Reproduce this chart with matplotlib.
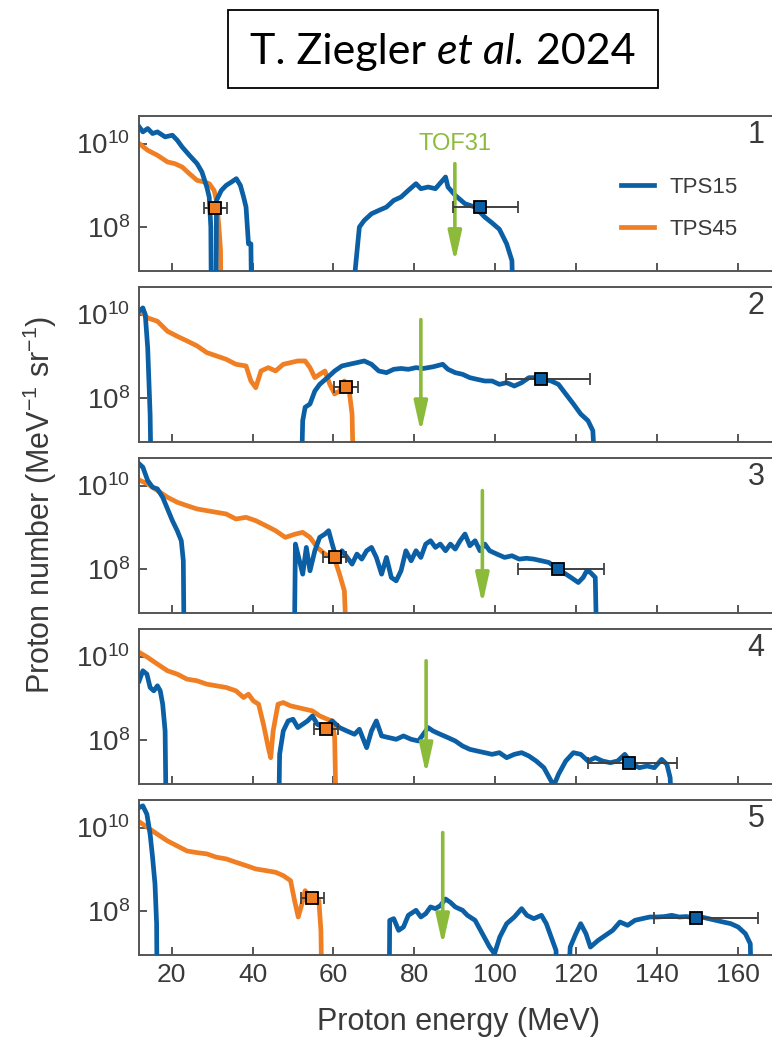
import numpy as np
import matplotlib
matplotlib.use('Agg')
import matplotlib.pyplot as plt
from matplotlib.patches import Rectangle

plt.rcParams['font.family'] = ['Liberation Sans', 'DejaVu Sans']
plt.rcParams['mathtext.fontset'] = 'custom'
plt.rcParams['mathtext.rm'] = 'Liberation Sans'
plt.rcParams['mathtext.it'] = 'Liberation Sans:italic'
plt.rcParams['mathtext.default'] = 'regular'

# ---- data (energy in MeV, log10 of proton number); 5.0 = dropped below axis ----
p1_tps15_e = [12, 12.9, 14.1, 15.3, 16.5, 18.4, 20.2, 21.4, 22.6, 24.4, 26.3, 27.5, 28.7, 29.3, 29.7, 29.9,
              30.9, 31.1, 32.3, 33.5, 34.8, 36.0, 37.0, 37.8, 38.4, 39.0, 39.6, 39.9,
              65.0, 65.4, 66.4, 67.6, 69.4, 71.2, 73.1, 74.9, 76.7, 78.5, 80.4, 81.6, 83.4, 85.2, 87.7, 88.3,
              90.1, 92.5, 95.0, 97.4, 99.2, 101.0, 102.8, 104.1, 104.7]
p1_tps15_lg = [10.4, 10.28, 10.36, 10.24, 10.28, 10.16, 10.2, 10.08, 9.92, 9.72, 9.52, 9.32, 8.96, 8.72, 8.0, 5.0,
               5.0, 8.64, 8.88, 9.0, 9.08, 9.16, 9.0, 8.72, 8.48, 7.6, 7.6, 5.0,
               5.0, 7.0, 8.0, 8.16, 8.32, 8.4, 8.48, 8.64, 8.72, 8.88, 9.04, 8.92, 8.96, 8.92, 9.2, 8.96,
               8.76, 8.56, 8.48, 8.24, 8.1, 7.95, 7.6, 7.2, 5.0]
p1_tps45_e = [12, 14.1, 16.5, 19.0, 20.8, 22.6, 24.4, 26.3, 28.1, 29.3, 30.5, 31.1, 31.7, 32.1, 32.3]
p1_tps45_lg = [10.0, 9.84, 9.72, 9.56, 9.52, 9.44, 9.28, 9.12, 9.08, 9.04, 8.88, 8.64, 8.0, 7.44, 5.0]

p2_tps15_e = [12, 12.9, 13.5, 14.1, 14.7, 15.1,
              51.8, 52.4, 53.0, 54.2, 55.4, 56.6, 58.5, 60.3, 62.1, 63.9, 65.8, 67.6, 69.4, 71.2, 73.1, 74.9,
              76.7, 78.5, 80.4, 82.2, 84.6, 87.0, 88.3, 90.1, 91.9, 93.7, 95.5, 97.4, 99.2, 101.0, 102.8, 104.7,
              106.5, 108.3, 110.1, 112.0, 113.8, 115.6, 117.4, 119.3, 121.1, 122.9, 124.1, 125.3]
p2_tps15_lg = [10.08, 10.16, 10.0, 9.2, 7.6, 5.0,
               5.0, 7.46, 7.78, 7.86, 8.17, 8.33, 8.49, 8.65, 8.77, 8.81, 8.85, 8.89, 8.81, 8.65, 8.61, 8.69,
               8.71, 8.69, 8.73, 8.71, 8.75, 8.81, 8.69, 8.61, 8.57, 8.49, 8.45, 8.41, 8.41, 8.33, 8.37, 8.29,
               8.37, 8.49, 8.49, 8.45, 8.41, 8.33, 8.1, 7.86, 7.62, 7.46, 7.22, 5.0]
p2_tps45_e = [12.3, 14.1, 16.5, 19.0, 21.4, 23.8, 26.3, 28.7, 31.1, 33.5, 35.9, 38.4, 39.6, 40.8, 42.1, 43.9,
              45.7, 47.6, 49.4, 51.2, 53.0, 54.2, 55.4, 56.6, 57.9, 59.1, 60.3, 61.5, 62.7, 63.9, 64.6, 65.2]
p2_tps45_lg = [10.08, 9.92, 9.84, 9.6, 9.48, 9.37, 9.25, 9.09, 9.01, 8.93, 8.81, 8.77, 8.41, 8.25, 8.65, 8.73,
               8.65, 8.81, 8.85, 8.89, 8.89, 8.73, 8.49, 8.57, 8.65, 8.33, 8.1, 8.17, 8.41, 8.17, 7.62, 5.0]

p3_tps15_e = [12, 12.9, 14.1, 15.3, 16.5, 17.8, 19.0, 20.2, 21.4, 22.4, 22.9, 23.2,
              50.2, 50.6, 51.6, 52.4, 53.3, 54.2, 55.4, 56.6, 57.9, 58.8, 59.7, 60.9, 62.1, 63.4, 64.6, 65.8,
              67.0, 68.2, 69.4, 70.6, 71.9, 73.1, 74.3, 75.5, 76.7, 77.9, 79.2, 80.4, 81.6, 82.8, 84.0, 85.2,
              86.4, 87.7, 88.9, 90.1, 91.3, 92.5, 93.7, 95.0, 96.2, 97.4, 98.6, 100.4, 102.3, 104.1, 105.9,
              107.7, 109.5, 111.4, 113.2, 115.0, 116.8, 118.7, 120.5, 121.7, 122.6, 123.5, 124.7, 125.3]
p3_tps15_lg = [10.52, 10.44, 10.12, 9.96, 9.92, 9.72, 9.44, 9.16, 8.92, 8.68, 8.2, 5.0,
               5.0, 8.6, 8.2, 7.88, 8.52, 7.96, 8.44, 8.76, 8.84, 8.92, 8.6, 8.2, 8.44, 8.28, 8.12, 8.36,
               8.24, 8.44, 8.52, 8.28, 7.88, 8.28, 7.8, 7.72, 7.96, 8.44, 8.2, 8.44, 8.28, 8.6, 8.68, 8.52,
               8.6, 8.44, 8.6, 8.48, 8.68, 8.84, 8.56, 8.68, 8.44, 8.6, 8.44, 8.36, 8.28, 8.32, 8.24,
               8.26, 8.24, 8.2, 8.16, 8.04, 7.92, 7.8, 7.68, 7.8, 7.96, 7.92, 7.8, 5.0]
p3_tps45_e = [12.3, 14.1, 16.5, 19.0, 21.4, 23.8, 26.3, 28.7, 31.1, 33.5, 35.9, 38.4, 40.8, 43.3, 45.7, 48.1,
              50.6, 52.4, 54.2, 56.0, 57.9, 60.3, 61.5, 62.7, 63.7]
p3_tps45_lg = [10.12, 10.04, 9.88, 9.72, 9.6, 9.52, 9.44, 9.4, 9.36, 9.32, 9.2, 9.24, 9.16, 9.04, 8.92, 8.76,
               8.84, 8.88, 8.76, 8.52, 8.36, 8.24, 7.88, 7.48, 5.0]

p4_tps15_e = [12, 12.9, 13.9, 14.7, 15.6, 16.5, 17.2, 17.8, 18.4, 18.8,
              46.3, 46.7, 47.6, 48.8, 50.0, 51.2, 52.4, 53.6, 54.8, 56.0, 57.9, 59.7, 61.5, 63.3, 65.2, 66.4,
              68.2, 69.4, 70.6, 71.9, 73.7, 75.5, 77.3, 79.2, 81.0, 82.2, 83.4, 84.6, 86.4, 88.3, 90.1, 91.9,
              93.7, 95.5, 97.4, 99.2, 101.0, 102.8, 104.7, 106.5, 108.3, 110.1, 112.0, 113.8, 114.4, 115.6,
              117.4, 119.3, 121.1, 122.9, 124.7, 126.5, 128.4, 130.2, 132.0, 133.8, 135.6, 137.5, 139.3, 141.1,
              142.4, 143.2, 144.2]
p4_tps15_lg = [9.42, 9.66, 9.58, 9.26, 9.18, 9.3, 9.18, 8.86, 8.22, 5.0,
               5.0, 7.66, 8.22, 8.46, 8.5, 8.3, 8.38, 8.46, 8.58, 8.38, 8.3, 8.46, 8.3, 8.22, 8.14, 8.26,
               7.82, 8.22, 8.46, 8.1, 8.06, 8.02, 8.1, 8.02, 7.98, 8.14, 8.3, 8.22, 8.14, 8.06, 7.98, 7.86,
               7.78, 7.74, 7.7, 7.66, 7.7, 7.58, 7.66, 7.7, 7.62, 7.5, 7.34, 7.02, 6.9, 7.18,
               7.5, 7.7, 7.66, 7.5, 7.58, 7.5, 7.46, 7.5, 7.66, 7.42, 7.34, 7.38, 7.34, 7.54,
               7.42, 7.1, 5.0]
p4_tps45_e = [12, 14.1, 16.5, 19.0, 21.4, 23.8, 26.3, 28.7, 31.1, 33.5, 35.9, 37.8, 39.0, 40.2, 41.5, 42.7,
              43.9, 44.5, 45.1, 46.3, 47.6, 49.4, 51.2, 53.0, 54.8, 56.6, 58.5, 59.7, 60.3, 60.9]
p4_tps45_lg = [10.1, 9.98, 9.82, 9.66, 9.58, 9.46, 9.42, 9.34, 9.3, 9.26, 9.18, 9.02, 9.1, 8.94, 8.86, 8.38,
               7.82, 7.58, 8.22, 8.86, 8.9, 8.82, 8.78, 8.74, 8.7, 8.58, 8.5, 8.46, 8.06, 5.0]

p5_tps15_e = [12, 12.9, 13.9, 14.7, 15.3, 15.9, 16.3, 16.5,
              73.7, 73.9, 74.9, 76.1, 77.3, 78.5, 80.4, 81.6, 82.8, 84.0, 85.2, 86.4, 87.7, 88.9, 90.1, 91.9,
              93.1, 95.0, 96.8, 98.6, 99.8, 101.1, 102.8, 104.7, 106.5, 107.8, 109.5, 111.4, 112.6, 113.8,
              115.0, 115.6, 117.4, 118.5, 119.9, 121.1, 122.4, 123.5, 125.4, 127.2, 129.0, 130.8, 132.7,
              134.5, 136.3, 138.2, 140.0, 141.8, 143.6, 145.4, 147.2, 149.1, 150.9, 152.7, 154.5, 156.3,
              158.2, 160.0, 161.8, 163.0, 163.6]
p5_tps15_lg = [10.48, 10.52, 10.32, 9.84, 9.29, 8.65, 7.7, 5.0,
               5.0, 7.78, 7.82, 7.54, 7.62, 7.9, 8.02, 7.86, 7.94, 8.1, 8.06, 8.13, 8.29, 8.21, 8.1, 8.02,
               7.9, 7.78, 7.46, 7.14, 6.98, 7.38, 7.7, 7.86, 8.06, 7.9, 7.82, 7.9, 7.7, 7.38,
               7.06, 5.0, 5.0, 7.14, 7.46, 7.7, 7.46, 7.14, 7.3, 7.42, 7.54, 7.74, 7.66,
               7.78, 7.82, 7.86, 7.86, 7.87, 7.9, 7.86, 7.87, 7.84, 7.86, 7.82, 7.78, 7.74,
               7.7, 7.62, 7.46, 7.22, 5.0]
p5_tps45_e = [12.3, 14.1, 16.5, 19.0, 21.4, 23.8, 26.3, 28.7, 31.1, 33.5, 35.9, 38.4, 40.8, 43.3, 45.7, 47.6,
              49.4, 50.4, 51.3, 52.2, 53.0, 54.2, 55.4, 56.4, 56.9, 57.3]
p5_tps45_lg = [10.12, 10.0, 9.84, 9.68, 9.56, 9.44, 9.4, 9.37, 9.29, 9.25, 9.17, 9.09, 9.01, 8.97, 8.93, 8.85,
               8.73, 8.25, 7.86, 8.17, 8.49, 8.33, 8.37, 8.25, 7.54, 5.0]

# marked points: [energy, log10 N, left err, right err]
pt_tps45 = [[30.8, 8.46, 2.7, 2.8], [63.1, 8.27, 3.0, 3.0], [60.3, 8.28, 2.8, 2.8],
            [58.2, 8.26, 2.9, 2.9], [54.8, 8.32, 2.9, 2.9]]
pt_tps15 = [[96.2, 8.48, 6.7, 9.3], [111.3, 8.45, 8.7, 12.0], [115.4, 8.0, 9.9, 11.5],
            [133.0, 7.46, 10.1, 11.8], [149.7, 7.83, 10.6, 15.2]]
# TOF31 arrows: energy, log10 of tail, log10 of head
tof_e = [90.0, 81.6, 96.8, 82.9, 87.0]
tof_top = [9.52, 9.88, 9.88, 9.9, 9.88]
tof_bot = [7.16, 7.18, 7.16, 7.18, 7.18]

panels = [(p1_tps15_e, p1_tps15_lg, p1_tps45_e, p1_tps45_lg),
          (p2_tps15_e, p2_tps15_lg, p2_tps45_e, p2_tps45_lg),
          (p3_tps15_e, p3_tps15_lg, p3_tps45_e, p3_tps45_lg),
          (p4_tps15_e, p4_tps15_lg, p4_tps45_e, p4_tps45_lg),
          (p5_tps15_e, p5_tps15_lg, p5_tps45_e, p5_tps45_lg)]

blue = '#0b5fa5'
orange = '#ef7f22'
green = '#8cbb3c'
grey = '#3a3a3a'

W, H = 772, 1041
fig = plt.figure(figsize=(W / 100, H / 100), dpi=100)

ax_left = 138.6 / W
ax_w = 640 / W
ax_h = 155 / H

for i, (b_e, b_lg, o_e, o_lg) in enumerate(panels):
    top = 116 + 171 * i
    ax = fig.add_axes([ax_left, 1 - (top + 155) / H, ax_w, ax_h])
    ax.plot(o_e, 10.0 ** np.array(o_lg), color=orange, lw=3.4, solid_joinstyle='round', label='TPS45', zorder=2)
    ax.plot(b_e, 10.0 ** np.array(b_lg), color=blue, lw=3.4, solid_joinstyle='round', label='TPS15', zorder=3)

    for pt, c in ((pt_tps45[i], orange), (pt_tps15[i], blue)):
        ax.errorbar([pt[0]], [10 ** pt[1]], xerr=[[pt[2]], [pt[3]]], fmt='s', color=c, ms=8,
                    mec='black', mew=1.3, ecolor='#404040', elinewidth=1.4, capsize=4, capthick=1.2, zorder=5)

    ax.annotate('', xy=(tof_e[i], 10 ** tof_bot[i]), xytext=(tof_e[i], 10 ** tof_top[i]),
                arrowprops=dict(arrowstyle='-|>,head_length=0.9,head_width=0.2', color=green,
                                lw=2.6, mutation_scale=20, shrinkA=0, shrinkB=0), zorder=4)

    ax.set_yscale('log')
    ax.set_xlim(11.85, 170)
    ax.set_ylim(10 ** 6.95, 10 ** 10.66)
    ax.set_yticks([1e8, 1e10], [r'$10^{8}$', r'$10^{10}$'])
    ax.minorticks_off()
    ax.set_xticks(np.arange(20, 161, 20))
    ax.tick_params(direction='in', length=6, width=1.2, colors=grey, labelsize=19, pad=6)
    ax.tick_params(axis='y', labelsize=20)
    if i < 4:
        ax.tick_params(axis='x', labelbottom=False)
    for s in ax.spines.values():
        s.set_color('#555555')
        s.set_linewidth(1.4)

    ax.text(166.5, 10 ** 10.2, str(i + 1), ha='right', va='center', fontsize=22, color=grey)

    if i == 0:
        ax.text(90.0, 10 ** 10.0, 'TOF31', ha='center', va='center', fontsize=17, color=green)
        h, l = ax.get_legend_handles_labels()
        ax.legend(h[::-1], l[::-1], loc='upper left', bbox_to_anchor=(0.74, 0.665), frameon=False,
                  fontsize=16, handlelength=1.5, handletextpad=0.7, labelspacing=0.95,
                  borderaxespad=0, labelcolor=grey)
    if i == 4:
        ax.set_xlabel('Proton energy (MeV)', fontsize=22, color=grey, labelpad=14)

fig.text(40 / W, 0.515, r'Proton number (MeV$^{-1}$ sr$^{-1}$)', rotation=90, ha='center', va='center',
         fontsize=22, color=grey)

# citation box
fig.add_artist(Rectangle((228 / W, 1 - 88 / H), 430 / W, 78 / H, transform=fig.transFigure,
                         facecolor='none', edgecolor='black', lw=1.3))
t1 = fig.text(250 / W, 1 - 64 / H, 'T. Ziegler ', fontsize=31, family='Lato', va='baseline')
ax0 = fig.axes[0]
t2 = ax0.annotate('et al.', xy=(1, 0), xycoords=t1, fontsize=31, family='Lato', style='italic',
                  va='bottom', ha='left', annotation_clip=False)
ax0.annotate(' 2024', xy=(1, 0), xycoords=t2, fontsize=31, family='Lato', va='bottom', ha='left',
             annotation_clip=False)

fig.savefig('out.png', dpi=100)
